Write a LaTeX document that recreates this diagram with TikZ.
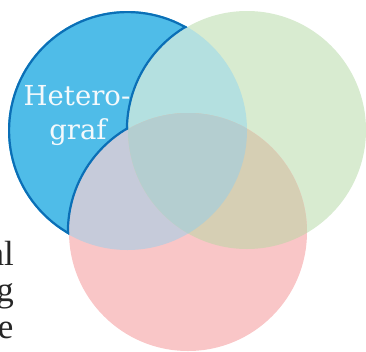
\documentclass[tikz,border=0pt]{standalone}
\usepackage{fontspec}
\newfontfamily\slabfont{DejaVu Serif}
\newfontfamily\bookfont{Liberation Serif}
\definecolor{blueF}{HTML}{4FBCE8}
\definecolor{blueD}{HTML}{0B6FB6}
\definecolor{greenF}{HTML}{D8EBD0}
\definecolor{pinkF}{HTML}{F9C6C7}
\definecolor{bgF}{HTML}{B4E0E0}
\definecolor{bpF}{HTML}{C6CBDA}
\definecolor{gpF}{HTML}{D6CFB4}
\definecolor{bgpF}{HTML}{B4CED0}
\definecolor{labelW}{HTML}{F4F9FC}
\tikzset{
  inlabel/.style={text=labelW, font=\slabfont\fontsize{27.5pt}{34pt}\selectfont, inner sep=0pt, anchor=base},
  sidetext/.style={text=black!85, font=\bookfont\fontsize{35pt}{36pt}\selectfont, inner sep=0pt, anchor=base east},
  rim/.style={blueD, line width=4.4pt}
}
\begin{document}
\begin{tikzpicture}[x=1pt,y=-1pt]
\useasboundingbox (0,0) rectangle (366,351);
\clip (0,0) rectangle (366,351);
\def\blueC{(127.5,130.5) circle[radius=119.5pt]}
\def\greenC{(247,130) circle[radius=119pt]}
\def\pinkC{(188,232) circle[radius=119pt]}
% base fills
\fill[blueF] \blueC;
\fill[greenF] \greenC;
\fill[pinkF] \pinkC;
% pairwise overlaps
\begin{scope}
  \clip \blueC;
  \fill[bgF] \greenC;
  \fill[bpF] \pinkC;
\end{scope}
\begin{scope}
  \clip \greenC;
  \fill[gpF] \pinkC;
\end{scope}
\begin{scope}
  \clip \blueC;
  \clip \greenC;
  \fill[bgpF] \pinkC;
\end{scope}
% outline of blue-only region
\begin{scope}[even odd rule]
  \clip \blueC;
  \clip (-10,-10) rectangle (400,400) \greenC;
  \clip (-10,-10) rectangle (400,400) \pinkC;
  \draw[rim] \blueC;
  \draw[rim] \greenC;
  \draw[rim] \pinkC;
\end{scope}
% labels
\node[inlabel] (h1) at (77,105) {Hetero-};
\node[inlabel] (h2) at (78,139) {graf};
\node[sidetext] (s1) at (14,265) {al};
\node[sidetext] (s2) at (14,301) {g};
\node[sidetext] (s3) at (13.5,338) {e};
\end{tikzpicture}
\end{document}
